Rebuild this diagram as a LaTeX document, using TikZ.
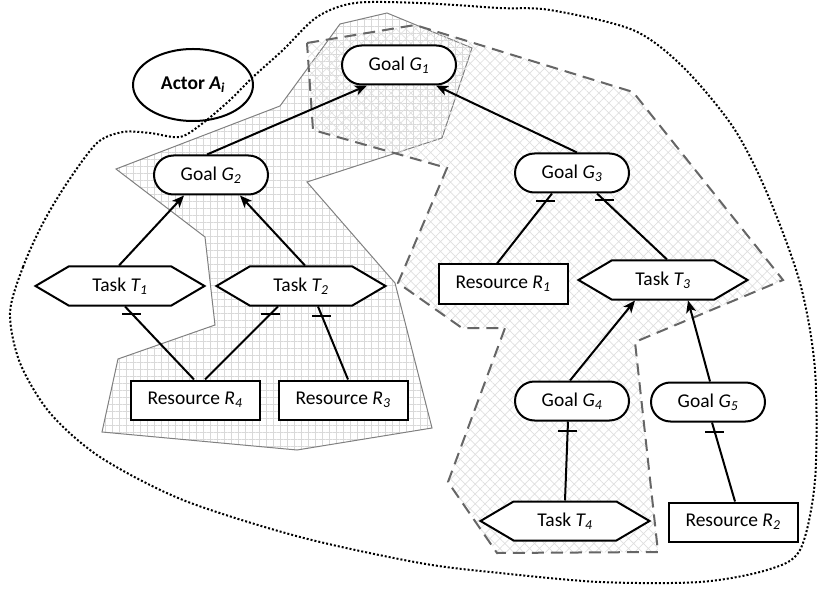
\documentclass[tikz,border=0pt]{standalone}
\usepackage{fontspec}
\setmainfont{Carlito}
\usetikzlibrary{shapes.misc,shapes.symbols,shapes.geometric,arrows.meta,patterns.meta,decorations.markings}
\tikzset{
goal/.style={draw, rounded rectangle, fill=white, line width=2pt, minimum width=114pt, minimum height=39pt, inner sep=0pt},
task/.style={draw, signal, signal to=east and west, signal from=nowhere, signal pointer angle=61, fill=white, line width=2pt, minimum width=169pt, minimum height=39pt, inner sep=0pt},
res/.style={draw, rectangle, fill=white, line width=2pt, minimum width=129pt, minimum height=39pt, inner sep=0pt},
actor/.style={draw, ellipse, line width=2pt, minimum width=120pt, minimum height=72pt},
contrib/.style={line width=2pt, -{Stealth[length=12pt,width=10pt,inset=3pt]}},
decomp/.style={line width=2pt, postaction={decorate}, decoration={markings, mark=at position 10pt with {\pgftransformresetnontranslations \draw[line width=2pt] (-9.5pt,0) -- (9.5pt,0);}}},
}
\begin{document}
\begin{tikzpicture}[x=1pt,y=-1pt,font=\fontsize{19.5}{23}\selectfont]
\useasboundingbox (0,0) rectangle (818,593);
% zones
\draw[gray, line width=1pt, pattern={Hatch[distance=7pt,angle=0,line width=0.7pt]}, pattern color=gray!30] (340,24) -- (387,13) -- (472,48) -- (442,138) -- (307,182) -- (395,283) -- (432,428) -- (297,450) -- (102,432) -- (118,359) -- (215,325) -- (205,237) -- (116,169) -- (280,106) -- cycle;
\draw[black!60, line width=2pt, dash pattern=on 12pt off 7pt, pattern={Hatch[distance=7pt,angle=45,line width=0.7pt]}, pattern color=gray!25] (307,43) -- (415,25) -- (633,92) -- (783,280) -- (635,342) -- (658,552) -- (497,553) -- (448,482) -- (505,328) -- (462,328) -- (398,283) -- (447,168) -- (313,130) -- cycle;
% actor boundary
\draw[line width=2pt, dash pattern=on 2pt off 2pt] plot[smooth cycle] coordinates {(10,313) (23,267) (43,223) (67,183) (97,143) (123,132) (150,133) (180,137) (203,123) (230,100) (253,77) (283,50) (317,17) (355,3) (420,3) (500,8) (550,10) (633,30) (683,67) (733,127) (767,193) (800,283) (815,370) (815,480) (800,550) (767,570) (700,582) (600,582) (500,573) (420,563) (300,537) (183,500) (100,457) (50,413) (20,363)};
% elements
\node[actor] (actor) at (193,85) {\textbf{Actor \textit{A\textsubscript{i}}}};
\node[goal] (g1) at (399,65) {Goal \textit{G\textsubscript{1}}};
\node[goal] (g2) at (211,175) {Goal \textit{G\textsubscript{2}}};
\node[goal] (g3) at (572,173) {Goal \textit{G\textsubscript{3}}};
\node[task] (t1) at (120,286) {Task \textit{T\textsubscript{1}}};
\node[task] (t2) at (301,286) {Task \textit{T\textsubscript{2}}};
\node[res] (r1) at (503,284) {Resource \textit{R\textsubscript{1}}};
\node[task] (t3) at (663,280) {Task \textit{T\textsubscript{3}}};
\node[res] (r4) at (195,400) {Resource \textit{R\textsubscript{4}}};
\node[res] (r3) at (343,400) {Resource \textit{R\textsubscript{3}}};
\node[goal] (g4) at (572,401) {Goal \textit{G\textsubscript{4}}};
\node[goal] (g5) at (708,402) {Goal \textit{G\textsubscript{5}}};
\node[task] (t4) at (565,521) {Task \textit{T\textsubscript{4}}};
\node[res] (r2) at (733,522) {Resource \textit{R\textsubscript{2}}};
% links
\draw[contrib] ([xshift=-4pt]g2.north) -- ([xshift=-32pt]g1.south);
\draw[contrib] ([xshift=5pt]g3.north) -- ([xshift=37pt]g1.south);
\draw[contrib] ([xshift=-1pt]t1.north) -- ([xshift=-27pt]g2.south);
\draw[contrib] ([xshift=4pt]t2.north) -- ([xshift=29pt]g2.south);
\draw[contrib] ([xshift=-2pt]g4.north) -- ([xshift=-28pt]t3.south);
\draw[contrib] ([xshift=2pt]g5.north) -- ([xshift=25pt]t3.south);
\draw[decomp] ([xshift=-20pt]g3.south) -- ([xshift=-6pt]r1.north);
\draw[decomp] ([xshift=25pt]g3.south) -- ([xshift=4pt]t3.north);
\draw[decomp] ([xshift=5pt]t1.south) -- ([xshift=-1pt]r4.north);
\draw[decomp] ([xshift=-23pt]t2.south) -- ([xshift=10pt]r4.north);
\draw[decomp] ([xshift=17pt]t2.south) -- ([xshift=5pt]r3.north);
\draw[decomp] ([xshift=-4pt]g4.south) -- (t4.north);
\draw[decomp] ([xshift=4pt]g5.south) -- ([xshift=2pt]r2.north);
\end{tikzpicture}
\end{document}
